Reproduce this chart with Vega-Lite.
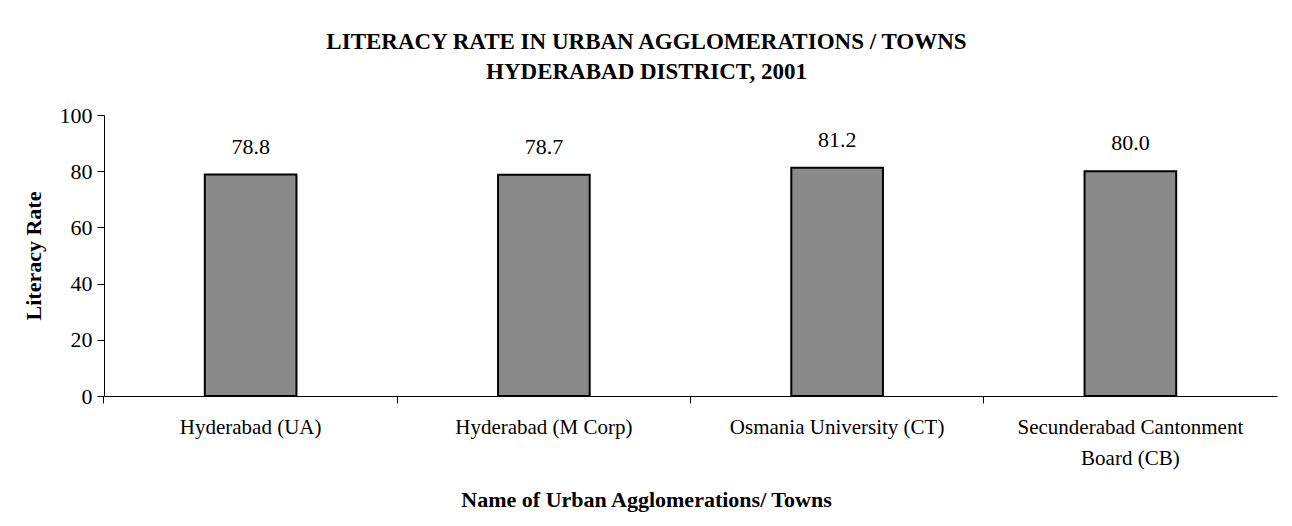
{
  "$schema": "https://vega.github.io/schema/vega-lite/v6.json",
  "autosize": {"type": "none"},
  "width": 1173,
  "height": 281,
  "padding": {"left": 104, "top": 115, "right": 15, "bottom": 130},
  "background": "white",
  "config": {
    "font": "Liberation Serif",
    "view": {"stroke": null}
  },
  "title": {
    "text": ["LITERACY RATE IN URBAN AGGLOMERATIONS / TOWNS", "HYDERABAD DISTRICT, 2001"],
    "font": "Liberation Serif",
    "fontSize": 23,
    "fontWeight": "bold",
    "color": "black",
    "anchor": "middle",
    "dx": -44,
    "offset": 20,
    "lineHeight": 30
  },
  "data": {
    "values": [
      {"town": "Hyderabad (UA)", "rate": 78.8},
      {"town": "Hyderabad (M Corp)", "rate": 78.7},
      {"town": "Osmania University (CT)", "rate": 81.2},
      {"town": "Secunderabad Cantonment Board (CB)", "rate": 80.0}
    ]
  },
  "encoding": {
    "x": {
      "field": "town",
      "type": "nominal",
      "sort": null,
      "scale": {"paddingInner": 0.6875, "paddingOuter": 0.34375},
      "axis": {
        "orient": "bottom",
        "title": "Name of Urban Agglomerations/ Towns",
        "labelAngle": 0,
        "ticks": true,
        "tickColor": "black",
        "tickSize": 7,
        "bandPosition": -1.1,
        "domainColor": "black",
        "labelFont": "Liberation Serif",
        "labelFontSize": 21,
        "labelColor": "black",
        "labelPadding": 13,
        "labelLineHeight": 31,
        "labelBaseline": "top",
        "labelLimit": 0,
        "labelExpr": "datum.label == 'Secunderabad Cantonment Board (CB)' ? ['Secunderabad Cantonment', 'Board (CB)'] : datum.label",
        "titleFont": "Liberation Serif",
        "titleFontSize": 22,
        "titleFontWeight": "bold",
        "titleColor": "black",
        "titleX": 542,
        "titleY": 103,
        "titleBaseline": "middle"
      }
    },
    "y": {
      "field": "rate",
      "type": "quantitative",
      "scale": {"domain": [0, 100], "nice": false},
      "axis": {
        "title": "Literacy Rate",
        "values": [0, 20, 40, 60, 80, 100],
        "grid": false,
        "domainColor": "black",
        "tickColor": "black",
        "tickSize": 7,
        "labelFont": "Liberation Serif",
        "labelFontSize": 22,
        "labelColor": "black",
        "labelPadding": 5,
        "titleFont": "Liberation Serif",
        "titleFontSize": 22,
        "titleFontWeight": "bold",
        "titleColor": "black",
        "titleX": -71,
        "titleBaseline": "middle"
      }
    }
  },
  "layer": [
    {
      "mark": {"type": "bar", "fill": "#8a8a8a", "stroke": "black", "strokeWidth": 2}
    },
    {
      "mark": {"type": "text", "font": "Liberation Serif", "fontSize": 22, "color": "black", "baseline": "middle", "dy": -28},
      "encoding": {
        "text": {"field": "rate", "type": "quantitative", "format": ".1f"}
      }
    }
  ]
}
